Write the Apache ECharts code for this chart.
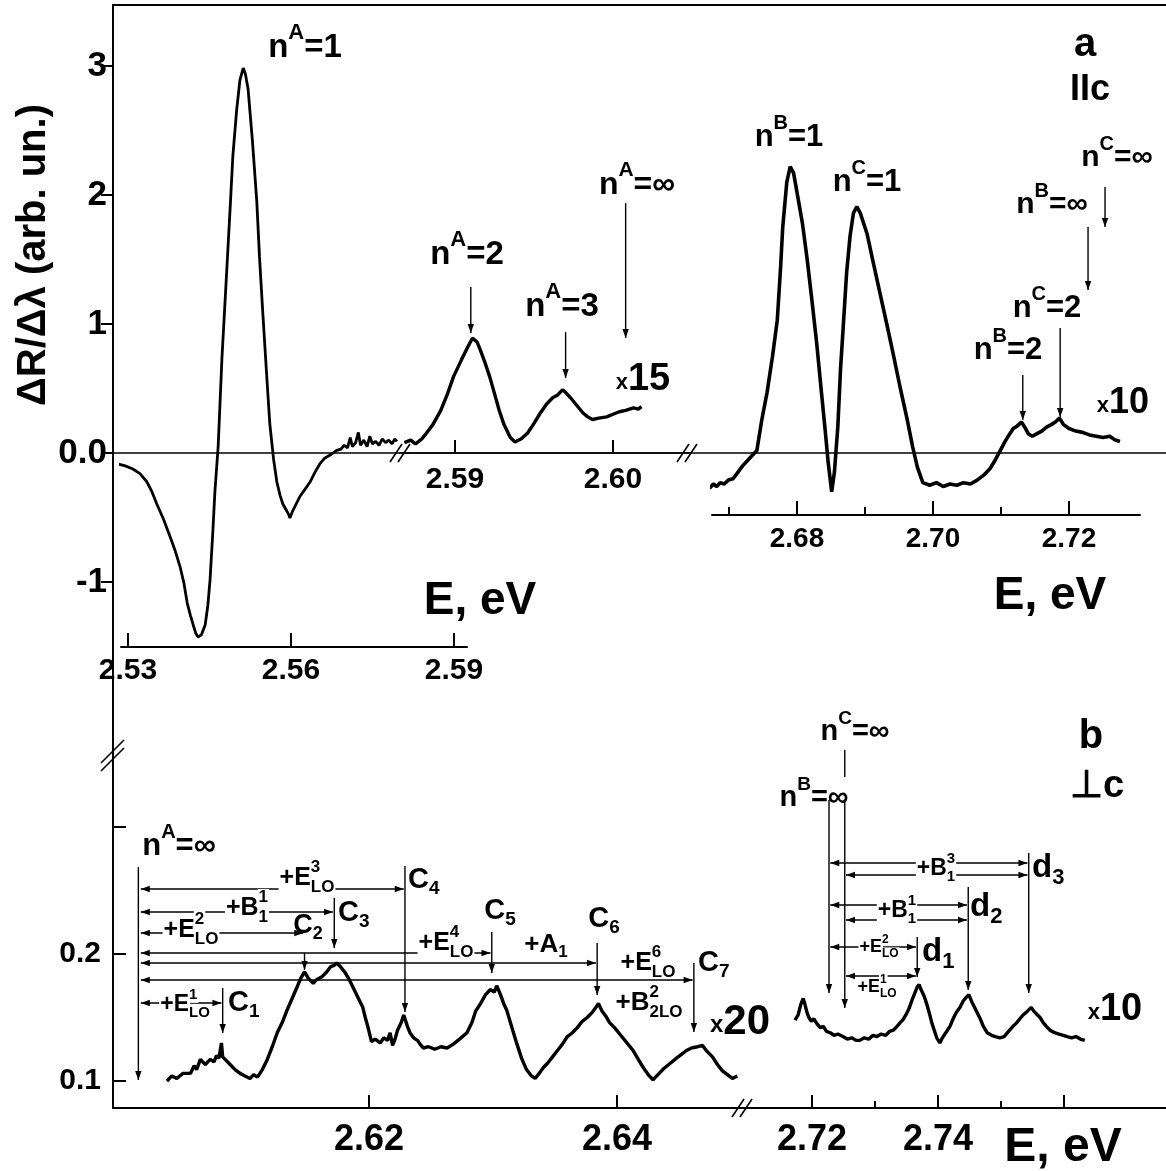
<!DOCTYPE html>
<html>
<head>
<meta charset="utf-8">
<title>dR/dl spectra</title>
<script src="https://cdn.jsdelivr.net/npm/echarts@6.0.0/dist/echarts.min.js"></script>
<style>
  html, body { margin: 0; padding: 0; background: #fff; }
  #chart { width: 1166px; height: 1171px; }
</style>
</head>
<body>
<div id="chart"></div>
<script>
const FF = '"Liberation Sans", Arial, Helvetica, sans-serif';

// panel a (E || c): [E eV, dR/dl]
const specA1 = [[2.5282,-0.085],[2.5295,-0.10],[2.5309,-0.124],[2.5322,-0.16],[2.5335,-0.225],[2.5344,-0.30],[2.5353,-0.395],[2.5365,-0.51],[2.5377,-0.643],[2.5387,-0.76],[2.5396,-0.884],[2.5403,-1.01],[2.5409,-1.163],[2.5415,-1.26],[2.5420,-1.333],[2.5425,-1.40],[2.5429,-1.426],[2.5435,-1.41],[2.5442,-1.333],[2.5447,-1.18],[2.5451,-0.984],[2.5456,-0.62],[2.5460,-0.295],[2.5466,0.054],[2.5473,0.744],[2.5482,1.434],[2.5488,1.90],[2.5493,2.302],[2.5500,2.66],[2.5506,2.891],[2.5512,2.984],[2.5516,2.94],[2.5521,2.822],[2.5529,2.42],[2.5537,1.953],[2.5542,1.52],[2.5548,1.093],[2.5555,0.62],[2.5561,0.225],[2.5568,-0.05],[2.5574,-0.225],[2.5580,-0.33],[2.5585,-0.395],[2.5591,-0.44],[2.5595,-0.47],[2.5598,-0.504],[2.5603,-0.45],[2.5610,-0.39],[2.5617,-0.333],[2.5626,-0.28],[2.5635,-0.225],[2.5644,-0.15],[2.5653,-0.085],[2.5662,-0.04],[2.5672,-0.016],[2.5684,0.02],[2.5692,0.03],[2.5698,0.06],[2.5704,0.04],[2.5709,0.12],[2.5713,0.05],[2.5719,0.08],[2.5724,0.16],[2.5728,0.06],[2.5734,0.10],[2.5740,0.05],[2.5745,0.13],[2.5750,0.07],[2.5756,0.09],[2.5762,0.06],[2.5768,0.11],[2.5774,0.08],[2.5780,0.10],[2.5786,0.07],[2.5791,0.11],[2.5795,0.09]];
// x15
const specA2 = [[2.5868,0.08],[2.5872,0.10],[2.5875,0.07],[2.5879,0.11],[2.5882,0.155],[2.5886,0.22],[2.5891,0.33],[2.5895,0.45],[2.5899,0.59],[2.5904,0.72],[2.5908,0.82],[2.5911,0.89],[2.5914,0.86],[2.5916,0.80],[2.5919,0.70],[2.5922,0.59],[2.5925,0.46],[2.5928,0.33],[2.5931,0.22],[2.5935,0.12],[2.5938,0.085],[2.5942,0.11],[2.5946,0.155],[2.5950,0.23],[2.5954,0.31],[2.5958,0.38],[2.5962,0.43],[2.5965,0.45],[2.5968,0.49],[2.5970,0.47],[2.5973,0.43],[2.5977,0.37],[2.5981,0.31],[2.5984,0.28],[2.5987,0.26],[2.5991,0.27],[2.5996,0.28],[2.6000,0.30],[2.6004,0.32],[2.6008,0.33],[2.6013,0.35],[2.6016,0.34],[2.6018,0.36]];
// x10
const specA3 = [[2.6638,-0.31],[2.6645,-0.28],[2.6652,-0.29],[2.6658,-0.26],[2.6662,-0.27],[2.6667,-0.25],[2.6672,-0.27],[2.6677,-0.24],[2.6682,-0.26],[2.6687,-0.23],[2.6693,-0.24],[2.6699,-0.21],[2.6706,-0.20],[2.6713,-0.15],[2.6720,-0.10],[2.6727,-0.06],[2.6734,-0.02],[2.6741,0.02],[2.6748,0.25],[2.6756,0.47],[2.6764,0.75],[2.6771,1.03],[2.6776,1.45],[2.6779,1.75],[2.6785,2.10],[2.6790,2.22],[2.6795,2.17],[2.6800,2.02],[2.6808,1.78],[2.6815,1.50],[2.6822,1.18],[2.6829,0.85],[2.6835,0.52],[2.6841,0.20],[2.6846,-0.08],[2.6851,-0.30],[2.6855,-0.15],[2.6860,0.20],[2.6864,0.65],[2.6868,0.98],[2.6873,1.40],[2.6878,1.68],[2.6883,1.86],[2.6888,1.91],[2.6893,1.86],[2.6903,1.70],[2.6912,1.48],[2.6922,1.24],[2.6932,1.00],[2.6941,0.78],[2.6952,0.50],[2.6962,0.26],[2.6970,0.05],[2.6977,-0.11],[2.6985,-0.23],[2.6995,-0.25],[2.7005,-0.23],[2.7015,-0.26],[2.7025,-0.24],[2.7035,-0.25],[2.7045,-0.23],[2.7055,-0.24],[2.7065,-0.21],[2.7075,-0.17],[2.7084,-0.12],[2.7092,-0.05],[2.7099,0.02],[2.7106,0.09],[2.7113,0.15],[2.7118,0.19],[2.7124,0.21],[2.7130,0.24],[2.7135,0.20],[2.7140,0.15],[2.7146,0.13],[2.7153,0.15],[2.7160,0.17],[2.7167,0.20],[2.7174,0.22],[2.7180,0.24],[2.7186,0.27],[2.7192,0.22],[2.7200,0.19],[2.7210,0.17],[2.7220,0.16],[2.7230,0.14],[2.7240,0.13],[2.7250,0.12],[2.7260,0.13],[2.7268,0.10],[2.7275,0.09]];

// panel b (E perp c), x20
const specB1 = [[2.6037,0.100],[2.6041,0.104],[2.6045,0.102],[2.6050,0.106],[2.6056,0.106],[2.6059,0.112],[2.6061,0.109],[2.6064,0.117],[2.6068,0.113],[2.6072,0.117],[2.6075,0.115],[2.6077,0.120],[2.6079,0.118],[2.6081,0.130],[2.6082,0.119],[2.6085,0.116],[2.6088,0.113],[2.6092,0.109],[2.6096,0.106],[2.6100,0.104],[2.6104,0.102],[2.6107,0.105],[2.6110,0.103],[2.6114,0.109],[2.6118,0.117],[2.6122,0.127],[2.6126,0.138],[2.6130,0.146],[2.6134,0.156],[2.6138,0.165],[2.6142,0.174],[2.6145,0.181],[2.6148,0.186],[2.6151,0.181],[2.6155,0.177],[2.6158,0.180],[2.6162,0.182],[2.6166,0.186],[2.6169,0.190],[2.6172,0.191],[2.6174,0.193],[2.6177,0.190],[2.6181,0.185],[2.6184,0.180],[2.6187,0.174],[2.6191,0.166],[2.6195,0.158],[2.6197,0.150],[2.6199,0.143],[2.6202,0.131],[2.6205,0.133],[2.6209,0.130],[2.6212,0.134],[2.6215,0.132],[2.6217,0.138],[2.6219,0.128],[2.6221,0.133],[2.6223,0.140],[2.6226,0.146],[2.6228,0.152],[2.6231,0.143],[2.6233,0.138],[2.6236,0.134],[2.6239,0.132],[2.6242,0.128],[2.6244,0.126],[2.6248,0.127],[2.6253,0.125],[2.6258,0.127],[2.6263,0.126],[2.6268,0.129],[2.6273,0.133],[2.6279,0.138],[2.6283,0.146],[2.6286,0.155],[2.6290,0.161],[2.6294,0.168],[2.6298,0.172],[2.6301,0.170],[2.6303,0.175],[2.6306,0.168],[2.6309,0.160],[2.6311,0.156],[2.6315,0.143],[2.6319,0.130],[2.6323,0.118],[2.6327,0.109],[2.6331,0.104],[2.6334,0.102],[2.6338,0.107],[2.6341,0.111],[2.6344,0.114],[2.6348,0.119],[2.6352,0.124],[2.6356,0.129],[2.6360,0.135],[2.6364,0.138],[2.6368,0.142],[2.6372,0.147],[2.6376,0.150],[2.6380,0.154],[2.6383,0.158],[2.6385,0.161],[2.6388,0.155],[2.6391,0.151],[2.6394,0.146],[2.6398,0.142],[2.6403,0.136],[2.6408,0.130],[2.6413,0.124],[2.6419,0.114],[2.6423,0.108],[2.6426,0.104],[2.6429,0.101],[2.6433,0.105],[2.6438,0.110],[2.6443,0.114],[2.6448,0.118],[2.6452,0.121],[2.6456,0.124],[2.6460,0.126],[2.6465,0.127],[2.6469,0.128],[2.6472,0.124],[2.6475,0.121],[2.6477,0.119],[2.6481,0.113],[2.6485,0.108],[2.6489,0.105],[2.6493,0.102],[2.6497,0.104]];
// x10
const specB2 = [[2.7173,0.148],[2.7178,0.152],[2.7182,0.160],[2.7186,0.165],[2.7189,0.160],[2.7192,0.154],[2.7195,0.150],[2.7199,0.147],[2.7203,0.149],[2.7208,0.145],[2.7213,0.142],[2.7218,0.143],[2.7223,0.139],[2.7229,0.138],[2.7235,0.136],[2.7241,0.137],[2.7249,0.135],[2.7256,0.133],[2.7263,0.134],[2.7270,0.132],[2.7276,0.132],[2.7283,0.134],[2.7290,0.133],[2.7297,0.136],[2.7303,0.135],[2.7310,0.137],[2.7317,0.136],[2.7323,0.139],[2.7329,0.140],[2.7335,0.143],[2.7340,0.146],[2.7344,0.148],[2.7349,0.152],[2.7354,0.157],[2.7359,0.164],[2.7363,0.169],[2.7367,0.174],[2.7370,0.176],[2.7373,0.172],[2.7377,0.168],[2.7380,0.164],[2.7383,0.159],[2.7387,0.152],[2.7390,0.146],[2.7394,0.140],[2.7398,0.134],[2.7403,0.130],[2.7407,0.134],[2.7411,0.137],[2.7415,0.140],[2.7419,0.143],[2.7424,0.149],[2.7429,0.154],[2.7435,0.158],[2.7440,0.163],[2.7445,0.166],[2.7449,0.168],[2.7453,0.163],[2.7457,0.159],[2.7462,0.154],[2.7467,0.149],[2.7472,0.143],[2.7478,0.138],[2.7485,0.136],[2.7491,0.135],[2.7498,0.134],[2.7505,0.135],[2.7512,0.139],[2.7519,0.143],[2.7525,0.146],[2.7530,0.149],[2.7535,0.152],[2.7540,0.154],[2.7544,0.156],[2.7548,0.158],[2.7552,0.155],[2.7556,0.153],[2.7562,0.150],[2.7567,0.146],[2.7572,0.143],[2.7578,0.140],[2.7585,0.138],[2.7592,0.137],[2.7599,0.136],[2.7605,0.135],[2.7612,0.134],[2.7619,0.135],[2.7626,0.133],[2.7633,0.132]];

const ticksA1 = [2.53, 2.56, 2.59];
const ticksA2 = [2.59, 2.60];
const ticksA3 = [2.68, 2.70, 2.72];
const minorA3 = [2.67, 2.69, 2.71];
const ticksB1 = [2.62, 2.64];
const ticksB2 = [2.72, 2.74, 2.76];
const labelsB2 = [2.72, 2.74];
const minorB2 = [2.73, 2.75];
const yTicksA = [-1, 0, 1, 2, 3];
const yTicksB = [0.1, 0.2, 0.3];
const yLabelsB = [0.1, 0.2];

// level markers: [series, E, from, to, arrowhead]
const levelArrows = [
  [2, 2.5910, 1.287, 0.930, true],   // nA=2
  [2, 2.5970, 0.938, 0.581, true],   // nA=3
  [2, 2.6008, 1.938, 0.891, true],   // nA=inf
  [3, 2.7228, 1.752, 1.264, true],   // nB=inf
  [3, 2.7253, 2.062, 1.752, true],   // nC=inf
  [3, 2.7132, 0.605, 0.256, true],   // nB=2
  [3, 2.7187, 0.969, 0.279, true],   // nC=2
  [4, 2.6014, 0.2685, 0.1008, true], // nA=inf
  [4, 2.6082, 0.1732, 0.1378, true], // C1
  [4, 2.6148, 0.2008, 0.1874, true], // C2
  [4, 2.6172, 0.2441, 0.2047, true], // C3
  [4, 2.6229, 0.2693, 0.1543, true], // C4
  [4, 2.6299, 0.2173, 0.1850, true], // C5
  [4, 2.6384, 0.2087, 0.1677, true], // C6
  [4, 2.6462, 0.1929, 0.1386, true], // C7
  [5, 2.7227, 0.3213, 0.1693, true], // nB=inf
  [5, 2.7252, 0.3213, 0.1575, true], // nC=inf
  [5, 2.7252, 0.3606, 0.3394, false],
  [5, 2.7544, 0.2795, 0.1693, true], // d3
  [5, 2.7448, 0.2528, 0.1717, true], // d2
  [5, 2.7367, 0.2134, 0.1819, true]  // d1
];
// phonon replicas: [series, E from, E to, level]
const replicaArrows = [
  [4, 2.6016, 2.6228, 0.2512],
  [4, 2.6016, 2.6171, 0.2331],
  [4, 2.6016, 2.6147, 0.2165],
  [4, 2.6016, 2.6298, 0.2008],
  [4, 2.6016, 2.6383, 0.1929],
  [4, 2.6016, 2.6461, 0.1795],
  [4, 2.6016, 2.6081, 0.1614],
  [5, 2.7229, 2.7542, 0.2717],
  [5, 2.7254, 2.7542, 0.2622],
  [5, 2.7229, 2.7446, 0.2386],
  [5, 2.7254, 2.7446, 0.2268],
  [5, 2.7229, 2.7365, 0.2055],
  [5, 2.7254, 2.7365, 0.1827]
];

const black = '#000';
const lbl = (fs) => ({ color: black, fontFamily: FF, fontWeight: 'bold', fontSize: fs });

function xAx(grid, min, max, ticks, labels, o) {
  o = o || {};
  return {
    type: 'value', gridIndex: grid, min: min, max: max, position: 'bottom',
    axisLine: { show: o.line !== false, onZero: false, lineStyle: { color: black, width: o.lw || 2 } },
    axisTick: { show: true, inside: true, length: o.tick || 13, customValues: ticks, lineStyle: { color: black, width: 2 } },
    axisLabel: Object.assign({ show: !!labels, customValues: labels || [], margin: o.margin || 10,
      formatter: v => v.toFixed(2) }, lbl(o.fs || 30)),
    splitLine: { show: false }
  };
}
const hidY = (grid, min, max) => ({ type: 'value', gridIndex: grid, min: min, max: max, show: false });
function trace(xi, yi, data, w) {
  return { type: 'line', xAxisIndex: xi, yAxisIndex: yi, data: data, symbol: 'none', showSymbol: false,
    clip: false, silent: true, lineStyle: { color: black, width: w } };
}

const option = {
  animation: false,
  backgroundColor: '#fff',
  grid: [
    { left: 113, top: 5, width: 1053, height: 755 },
    { left: 121, top: 5, width: 346, height: 642 },
    { left: 400, top: 5, width: 290, height: 448 },
    { left: 712, top: 5, width: 428, height: 510 },
    { left: 113, top: 760, width: 1053, height: 348 },
    { left: 113, top: 760, width: 627, height: 348 },
    { left: 740, top: 760, width: 426, height: 348 }
  ],
  xAxis: [
    { type: 'value', gridIndex: 0, min: 0, max: 1, position: 'top',
      axisLine: { onZero: false, lineStyle: { color: black, width: 2 } },
      axisTick: { show: false }, axisLabel: { show: false }, splitLine: { show: false } },
    xAx(1, 2.528712, 2.592393, ticksA1, ticksA1, { tick: 14, margin: 9 }),
    xAx(2, 2.586519, 2.604873, ticksA2, ticksA2, { tick: 13, margin: 12, lw: 1.6 }),
    xAx(3, 2.6675, 2.730441, ticksA3, ticksA3, { tick: 14, margin: 10, fs: 28 }),
    xAx(3, 2.6675, 2.730441, minorA3, null, { tick: 8, line: false }),
    { type: 'value', gridIndex: 4, min: 0, max: 1, show: false },
    xAx(5, 2.599355, 2.649919, ticksB1, ticksB1, { tick: 13, margin: 14, fs: 36 }),
    xAx(6, 2.708571, 2.776190, ticksB2, labelsB2, { tick: 13, margin: 14, fs: 36 }),
    xAx(6, 2.708571, 2.776190, minorB2, null, { tick: 7, line: false })
  ],
  yAxis: [
    { type: 'value', gridIndex: 0, min: -2.37984, max: 3.47287,
      axisLine: { show: true, onZero: false, lineStyle: { color: black, width: 2 } },
      axisTick: { show: true, inside: false, length: 12, customValues: yTicksA, lineStyle: { color: black, width: 2 } },
      axisLabel: Object.assign({ customValues: yTicksA, margin: 6,
        formatter: v => (v === 0 ? '0.0' : String(v)) }, lbl(35)),
      splitLine: { show: false } },
    hidY(1, -1.50388, 3.47287),
    hidY(2, 0, 3.47287),
    hidY(3, -0.48062, 3.47287),
    { type: 'value', gridIndex: 4, min: 0.07874, max: 0.35276,
      axisLine: { show: true, onZero: false, lineStyle: { color: black, width: 2 } },
      axisTick: { show: true, inside: true, length: 13, customValues: yTicksB, lineStyle: { color: black, width: 2 } },
      axisLabel: Object.assign({ customValues: yLabelsB, margin: 12, formatter: v => v.toFixed(1) }, lbl(30)),
      splitLine: { show: false } },
    hidY(5, 0.07874, 0.35276),
    hidY(6, 0.07874, 0.35276)
  ],
  series: [
    trace(0, 0, [[0, 0], [1, 0]], 1.6),
    trace(1, 1, specA1, 2.8),
    trace(2, 2, specA2, 3.4),
    trace(3, 3, specA3, 3.6),
    trace(6, 5, specB1, 3.4),
    trace(7, 6, specB2, 3.4)
  ]
};

const chart = echarts.init(document.getElementById('chart'));
chart.setOption(option);

// annotations, placed through the series' own axes
const px = (s, E, v) => chart.convertToPixel({ seriesIndex: s }, [E, v]);
const els = [];
function line(p, q, w) {
  els.push({ type: 'line', z: 50, shape: { x1: p[0], y1: p[1], x2: q[0], y2: q[1] },
    style: { stroke: black, lineWidth: w || 1.4 } });
}
function head(tip, from) {
  const a = Math.atan2(tip[1] - from[1], tip[0] - from[0]);
  const L = 9, W = 3.2, c = Math.cos(a), s = Math.sin(a);
  els.push({ type: 'polygon', z: 51, shape: { points: [[tip[0], tip[1]],
    [tip[0] - L * c - W * s, tip[1] - L * s + W * c], [tip[0] - L * c + W * s, tip[1] - L * s - W * c]] },
    style: { fill: black } });
}
levelArrows.forEach(a => {
  const p = px(a[0], a[1], a[2]), q = px(a[0], a[1], a[3]);
  line(p, q);
  if (a[4]) head(q, p);
});
replicaArrows.forEach(a => {
  const p = px(a[0], a[1], a[3]), q = px(a[0], a[2], a[3]);
  line(p, q);
  head(p, q); head(q, p);
});

// axis breaks
[[400, 453, 'h'], [687, 453, 'h'], [742, 1108, 'h']].forEach(b => {
  [-4, 4].forEach(d => line([b[0] - 6 + d, b[1] + 9], [b[0] + 6 + d, b[1] - 9], 1.6));
});
[-4, 4].forEach(d => line([101, 767 + d], [124, 744 + d], 1.6));

// text with super/subscripts: parts = [text, size, dy, stackOnPrevious]
const mctx = document.createElement('canvas').getContext('2d');
const tw = (t, s) => { mctx.font = 'bold ' + s + 'px ' + FF; return mctx.measureText(t).width; };
function text(x, y, parts, align, bg) {
  let cx = 0, gs = 0, gw = 0;
  const placed = [];
  parts.forEach(p => {
    const w = tw(p[0], p[1]);
    if (p[3]) { gw = Math.max(gw, w); cx = gs + gw; placed.push({ p: p, x: gs }); }
    else { gs = cx; gw = w; placed.push({ p: p, x: cx }); cx += w; }
  });
  const x0 = align === 'left' ? x : (align === 'right' ? x - cx : x - cx / 2);
  placed.forEach(o => {
    els.push({ type: 'text', z: 60, x: x0 + o.x, y: y + (o.p[2] || 0),
      style: { text: o.p[0], font: 'bold ' + o.p[1] + 'px ' + FF, fill: black,
        align: 'left', textAlign: 'left', verticalAlign: 'middle', textVerticalAlign: 'middle',
        backgroundColor: bg ? '#fff' : null, padding: bg ? [0, 1] : 0 } });
  });
}
const nx = (X, v, s) => [['n', s, 0], [X, Math.round(s * 0.66), -s * 0.45], ['=' + v, s, 0]];
const ss = (base, sup, sub, s) => [[base, s, 0], [sup, Math.round(s * 0.66), -s * 0.42],
  [sub, Math.round(s * 0.66), s * 0.36, true]];
const sb = (base, sub, s) => [[base, s, 0], [sub, Math.round(s * 0.66), s * 0.3]];

// panel a
text(305, 48, nx('A', '1', 33));
text(467, 255, nx('A', '2', 33));
text(562, 307, nx('A', '3', 33));
text(637, 185, nx('A', '\u221e', 32));
text(643, 380, [['x', 22, 3], ['15', 38, 0]]);
text(789, 137, nx('B', '1', 31));
text(867, 182, nx('C', '1', 31));
text(1117, 158, nx('C', '\u221e', 30));
text(1052, 205, nx('B', '\u221e', 30));
text(1047, 308, nx('C', '2', 31));
text(1008, 350, nx('B', '2', 31));
text(1123, 403, [['x', 22, 3], ['10', 36, 0]]);
text(1085, 45, [['a', 40, 0]]);
text(1090, 90, [['IIc', 36, 0]]);
text(480, 601, [['E, eV', 46, 0]]);
text(1050, 596, [['E, eV', 46, 0]]);
els.push({ type: 'text', z: 60, x: 34, y: 255, rotation: Math.PI / 2,
  style: { text: '\u0394R/\u0394\u03bb (arb. un.)', font: 'bold 40px ' + FF, fill: black,
    align: 'center', textAlign: 'center', verticalAlign: 'middle', textVerticalAlign: 'middle' } });

// panel b
text(179, 846, nx('A', '\u221e', 31));
text(855, 732, nx('C', '\u221e', 29));
text(814, 798, nx('B', '\u221e', 29));
text(1091, 737, [['b', 40, 0]]);
text(1097, 787, [['\u22a5c', 38, 0]]);
text(306, 878, ss('+E', '3', 'LO', 25), 'center', true);
text(246, 908, ss('+B', '1', '1', 25), 'center', true);
text(190, 930, ss('+E', '2', 'LO', 25), 'center', true);
text(445, 943, ss('+E', '4', 'LO', 25), 'center', true);
text(546, 945, sb('+A', '1', 26));
text(648, 963, ss('+E', '6', 'LO', 25));
text(649, 1003, ss('+B', '2', '2LO', 26));
text(184, 1005, ss('+E', '1', 'LO', 23), 'center', true);
text(228, 1003, sb('C', '1', 29), 'left');
text(308, 926, sb('C', '2', 27));
text(338, 913, sb('C', '3', 29), 'left');
text(408, 880, sb('C', '4', 29), 'left');
text(500, 911, sb('C', '5', 29));
text(604, 919, sb('C', '6', 29));
text(698, 963, sb('C', '7', 29), 'left');
text(740, 1022, [['x', 24, 3], ['20', 42, 0]]);
text(935, 869, ss('+B', '3', '1', 23), 'center', true);
text(896, 911, ss('+B', '1', '1', 23), 'center', true);
text(878, 947, ss('+E', '2', 'LO', 18), 'center', true);
text(876, 987, ss('+E', '1', 'LO', 18), 'center', true);
text(1032, 868, sb('d', '3', 33), 'left');
text(970, 907, sb('d', '2', 33), 'left');
text(922, 952, sb('d', '1', 33), 'left');
text(1115, 1010, [['x', 22, 3], ['10', 38, 0]]);
text(1063, 1148, [['E, eV', 48, 0]]);

chart.setOption({ graphic: { elements: els } });
</script>
</body>
</html>
